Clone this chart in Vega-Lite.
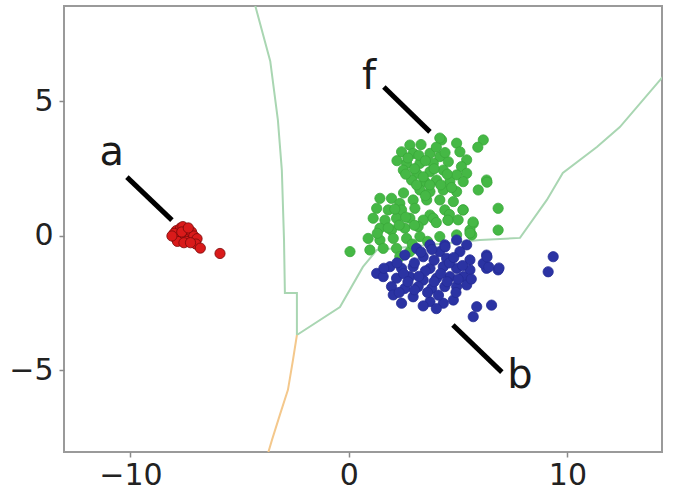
{
  "$schema": "https://vega.github.io/schema/vega-lite/v6.json",
  "autosize": "none",
  "width": 598,
  "height": 446,
  "padding": {"left": 64, "top": 6, "right": 19, "bottom": 42},
  "background": "white",
  "config": {
    "view": {"stroke": "#9a9a9a", "strokeWidth": 2},
    "axis": {
      "grid": false, "domain": false, "ticks": true, "tickColor": "#8a8a8a", "tickSize": 5, "tickWidth": 1.5,
      "labelFontSize": 30, "labelColor": "#222222", "labelFont": "DejaVu Sans", "title": null
    }
  },
  "datasets": {
    "pts": [
      {"x":4.24,"y":3.57,"g":"f"},{"x":6.15,"y":3.57,"g":"f"},{"x":2.79,"y":3.38,"g":"f"},{"x":4.93,"y":3.45,"g":"f"},{"x":2.41,"y":3.13,"g":"f"},{"x":2.94,"y":3.07,"g":"f"},{"x":3.71,"y":3.07,"g":"f"},{"x":4.16,"y":2.95,"g":"f"},{"x":5.08,"y":3.13,"g":"f"},{"x":5.39,"y":2.83,"g":"f"},
      {"x":2.64,"y":2.70,"g":"f"},{"x":3.25,"y":2.70,"g":"f"},{"x":3.86,"y":2.70,"g":"f"},{"x":4.55,"y":2.76,"g":"f"},{"x":5.15,"y":2.58,"g":"f"},{"x":2.49,"y":2.45,"g":"f"},{"x":3.10,"y":2.33,"g":"f"},{"x":3.71,"y":2.39,"g":"f"},{"x":4.32,"y":2.45,"g":"f"},{"x":4.93,"y":2.27,"g":"f"},
      {"x":5.39,"y":2.33,"g":"f"},{"x":2.87,"y":2.08,"g":"f"},{"x":3.48,"y":2.02,"g":"f"},{"x":4.01,"y":2.08,"g":"f"},{"x":4.62,"y":2.02,"g":"f"},{"x":5.23,"y":2.02,"g":"f"},{"x":6.30,"y":2.08,"g":"f"},{"x":5.92,"y":1.71,"g":"f"},{"x":3.25,"y":1.71,"g":"f"},{"x":3.71,"y":1.65,"g":"f"},
      {"x":4.32,"y":1.71,"g":"f"},{"x":4.93,"y":1.65,"g":"f"},{"x":1.42,"y":1.40,"g":"f"},{"x":1.95,"y":1.40,"g":"f"},{"x":2.33,"y":1.21,"g":"f"},{"x":2.94,"y":1.34,"g":"f"},{"x":3.56,"y":1.34,"g":"f"},{"x":4.16,"y":1.34,"g":"f"},{"x":4.78,"y":1.28,"g":"f"},{"x":1.27,"y":1.03,"g":"f"},
      {"x":1.80,"y":0.97,"g":"f"},{"x":2.41,"y":0.97,"g":"f"},{"x":3.02,"y":1.03,"g":"f"},{"x":3.71,"y":0.78,"g":"f"},{"x":4.39,"y":0.97,"g":"f"},{"x":5.23,"y":0.97,"g":"f"},{"x":6.83,"y":1.03,"g":"f"},{"x":1.11,"y":0.66,"g":"f"},{"x":1.65,"y":0.59,"g":"f"},{"x":2.18,"y":0.66,"g":"f"},
      {"x":2.79,"y":0.66,"g":"f"},{"x":3.40,"y":0.59,"g":"f"},{"x":3.86,"y":0.66,"g":"f"},{"x":4.55,"y":0.59,"g":"f"},{"x":5.69,"y":0.47,"g":"f"},{"x":1.42,"y":0.29,"g":"f"},{"x":1.95,"y":0.22,"g":"f"},{"x":2.56,"y":0.29,"g":"f"},{"x":3.17,"y":0.35,"g":"f"},{"x":5.54,"y":0.22,"g":"f"},
      {"x":6.83,"y":0.22,"g":"f"},{"x":0.88,"y":-0.09,"g":"f"},{"x":1.42,"y":-0.15,"g":"f"},{"x":2.03,"y":-0.09,"g":"f"},{"x":2.64,"y":-0.09,"g":"f"},{"x":3.25,"y":-0.02,"g":"f"},{"x":4.16,"y":-0.02,"g":"f"},{"x":4.93,"y":0.04,"g":"f"},{"x":5.62,"y":0.04,"g":"f"},{"x":0.05,"y":-0.58,"g":"f"},
      {"x":0.96,"y":-0.52,"g":"f"},{"x":1.57,"y":-0.46,"g":"f"},{"x":2.18,"y":-0.46,"g":"f"},{"x":2.79,"y":-0.58,"g":"f"},{"x":2.33,"y":-0.77,"g":"f"},
      {"x":2.7,"y":2.9,"g":"f"},{"x":3.2,"y":3.0,"g":"f"},{"x":3.5,"y":2.8,"g":"f"},{"x":4.0,"y":3.3,"g":"f"},{"x":4.4,"y":3.1,"g":"f"},{"x":3.0,"y":2.5,"g":"f"},{"x":3.4,"y":2.2,"g":"f"},{"x":3.9,"y":2.5,"g":"f"},{"x":4.5,"y":2.3,"g":"f"},{"x":4.2,"y":1.9,"g":"f"},
      {"x":3.7,"y":1.9,"g":"f"},{"x":2.6,"y":2.3,"g":"f"},{"x":3.1,"y":1.9,"g":"f"},{"x":4.7,"y":1.8,"g":"f"},{"x":3.5,"y":1.5,"g":"f"},{"x":2.5,"y":1.6,"g":"f"},{"x":2.1,"y":1.0,"g":"f"},{"x":2.6,"y":0.7,"g":"f"},{"x":3.0,"y":0.4,"g":"f"},{"x":1.8,"y":0.3,"g":"f"},
      {"x":2.3,"y":0.4,"g":"f"},{"x":4.0,"y":0.5,"g":"f"},{"x":4.6,"y":0.8,"g":"f"},{"x":5.0,"y":0.6,"g":"f"},{"x":1.3,"y":0.1,"g":"f"},{"x":2.9,"y":-0.3,"g":"f"},{"x":3.6,"y":-0.2,"g":"f"},{"x":5.9,"y":3.3,"g":"f"},{"x":3.3,"y":3.4,"g":"f"},{"x":2.2,"y":2.8,"g":"f"},
      {"x":4.16,"y":3.64,"g":"f"},{"x":6.32,"y":2.0,"g":"f"},{"x":5.68,"y":0.52,"g":"f"},{"x":5.54,"y":0.11,"g":"f"},{"x":5.22,"y":0.97,"g":"f"},{"x":4.53,"y":0.59,"g":"f"},
      {"x":4.93,"y":-0.15,"g":"b"},{"x":4.39,"y":-0.33,"g":"b"},{"x":3.71,"y":-0.33,"g":"b"},{"x":5.39,"y":-0.33,"g":"b"},{"x":3.10,"y":-0.46,"g":"b"},{"x":4.16,"y":-0.58,"g":"b"},{"x":5.08,"y":-0.58,"g":"b"},{"x":6.30,"y":-0.71,"g":"b"},{"x":2.56,"y":-0.71,"g":"b"},{"x":3.40,"y":-0.77,"g":"b"},
      {"x":4.47,"y":-0.83,"g":"b"},{"x":5.54,"y":-0.89,"g":"b"},{"x":1.27,"y":-1.39,"g":"b"},{"x":1.88,"y":-1.14,"g":"b"},{"x":2.41,"y":-1.20,"g":"b"},{"x":2.94,"y":-1.14,"g":"b"},{"x":3.71,"y":-1.20,"g":"b"},{"x":4.32,"y":-1.14,"g":"b"},{"x":4.93,"y":-1.20,"g":"b"},{"x":5.54,"y":-1.26,"g":"b"},
      {"x":6.30,"y":-1.20,"g":"b"},{"x":6.83,"y":-1.26,"g":"b"},{"x":1.57,"y":-1.51,"g":"b"},{"x":2.18,"y":-1.57,"g":"b"},{"x":2.79,"y":-1.51,"g":"b"},{"x":3.40,"y":-1.64,"g":"b"},{"x":4.01,"y":-1.57,"g":"b"},{"x":4.62,"y":-1.51,"g":"b"},{"x":5.23,"y":-1.51,"g":"b"},{"x":1.95,"y":-1.88,"g":"b"},
      {"x":2.56,"y":-1.95,"g":"b"},{"x":3.17,"y":-1.88,"g":"b"},{"x":3.79,"y":-1.95,"g":"b"},{"x":4.39,"y":-1.88,"g":"b"},{"x":4.93,"y":-1.88,"g":"b"},{"x":5.39,"y":-1.82,"g":"b"},{"x":2.03,"y":-2.19,"g":"b"},{"x":2.41,"y":-2.50,"g":"b"},{"x":2.94,"y":-2.26,"g":"b"},{"x":3.71,"y":-2.44,"g":"b"},
      {"x":4.32,"y":-2.50,"g":"b"},{"x":4.78,"y":-2.38,"g":"b"},{"x":5.85,"y":-2.63,"g":"b"},{"x":6.53,"y":-2.57,"g":"b"},{"x":5.69,"y":-3.00,"g":"b"},{"x":9.35,"y":-0.77,"g":"b"},{"x":9.12,"y":-1.33,"g":"b"},{"x":6.15,"y":-1.02,"g":"b"},
      {"x":3.3,"y":-0.6,"g":"b"},{"x":3.9,"y":-0.9,"g":"b"},{"x":4.6,"y":-1.0,"g":"b"},{"x":3.0,"y":-1.0,"g":"b"},{"x":2.5,"y":-1.4,"g":"b"},{"x":3.5,"y":-1.3,"g":"b"},{"x":4.2,"y":-1.4,"g":"b"},{"x":4.8,"y":-0.8,"g":"b"},{"x":2.2,"y":-1.0,"g":"b"},{"x":3.2,"y":-1.5,"g":"b"},
      {"x":3.9,"y":-1.7,"g":"b"},{"x":4.5,"y":-1.7,"g":"b"},{"x":2.7,"y":-1.7,"g":"b"},{"x":3.6,"y":-2.1,"g":"b"},{"x":4.1,"y":-2.2,"g":"b"},{"x":5.0,"y":-1.6,"g":"b"},{"x":5.2,"y":-1.1,"g":"b"},{"x":4.4,"y":-0.4,"g":"b"},{"x":3.8,"y":-0.5,"g":"b"},{"x":3.0,"y":-2.0,"g":"b"},
      {"x":1.6,"y":-1.2,"g":"b"},{"x":2.3,"y":-2.1,"g":"b"},{"x":4.9,"y":-2.1,"g":"b"},{"x":5.6,"y":-1.6,"g":"b"},{"x":3.4,"y":-2.6,"g":"b"},{"x":4.0,"y":-2.7,"g":"b"},{"x":6.4,"y":-1.15,"g":"b"},{"x":6.87,"y":-1.19,"g":"b"},{"x":6.32,"y":-0.78,"g":"b"},
      {"x":-7.9,"y":0.2,"g":"a"},{"x":-7.7,"y":0.3,"g":"a"},{"x":-7.5,"y":0.25,"g":"a"},{"x":-7.8,"y":0.0,"g":"a"},{"x":-7.6,"y":0.05,"g":"a"},{"x":-7.4,"y":0.1,"g":"a"},{"x":-7.9,"y":-0.1,"g":"a"},{"x":-7.7,"y":-0.15,"g":"a"},{"x":-7.5,"y":-0.05,"g":"a"},{"x":-7.3,"y":-0.1,"g":"a"},
      {"x":-8.0,"y":0.1,"g":"a"},{"x":-7.6,"y":0.35,"g":"a"},{"x":-7.2,"y":0.15,"g":"a"},{"x":-7.1,"y":0.0,"g":"a"},{"x":-7.85,"y":-0.2,"g":"a"},{"x":-7.45,"y":-0.2,"g":"a"},{"x":-6.95,"y":-0.1,"g":"a"},{"x":-7.0,"y":-0.3,"g":"a"},{"x":-6.8,"y":-0.45,"g":"a"},{"x":-5.9,"y":-0.65,"g":"a"},
      {"x":-7.65,"y":0.15,"g":"a"},{"x":-7.35,"y":0.3,"g":"a"},{"x":-8.1,"y":0.0,"g":"a"},{"x":-7.55,"y":-0.25,"g":"a"},{"x":-7.25,"y":-0.25,"g":"a"}
    ],
    "bounds": [
      {"seg":"g1","o":1,"x":-4.30,"y":8.6},{"seg":"g1","o":2,"x":-3.6,"y":6.5},{"seg":"g1","o":3,"x":-3.25,"y":4.31},{"seg":"g1","o":4,"x":-3.07,"y":2.45},{"seg":"g1","o":5,"x":-2.97,"y":-0.15},{"seg":"g1","o":6,"x":-2.93,"y":-2.12},{"seg":"g1","o":7,"x":-2.38,"y":-2.12},{"seg":"g1","o":8,"x":-2.38,"y":-3.68},
      {"seg":"g2","o":1,"x":-2.38,"y":-3.68},{"seg":"g2","o":2,"x":-0.41,"y":-2.64},{"seg":"g2","o":3,"x":0.64,"y":-1.15},{"seg":"g2","o":4,"x":1.28,"y":-0.52},{"seg":"g2","o":5,"x":6.0,"y":-0.15},{"seg":"g2","o":6,"x":7.83,"y":-0.07},{"seg":"g2","o":7,"x":9.06,"y":1.34},{"seg":"g2","o":8,"x":9.79,"y":2.34},{"seg":"g2","o":9,"x":11.35,"y":3.31},{"seg":"g2","o":10,"x":12.4,"y":4.05},{"seg":"g2","o":11,"x":14.4,"y":5.95},
      {"seg":"o","o":1,"x":-2.38,"y":-3.68},{"seg":"o","o":2,"x":-2.56,"y":-4.61},{"seg":"o","o":3,"x":-2.79,"y":-5.72},{"seg":"o","o":4,"x":-3.16,"y":-6.65},{"seg":"o","o":5,"x":-3.52,"y":-7.58},{"seg":"o","o":6,"x":-3.71,"y":-8.1}
    ],
    "notes": [
      {"t":"a","x":-10.85,"y":3.09,"x1":-10.16,"y1":2.19,"x2":-8.10,"y2":0.59},
      {"t":"b","x":7.83,"y":-5.2,"x1":4.76,"y1":-3.31,"x2":7.0,"y2":-5.06},
      {"t":"f","x":0.92,"y":5.91,"x1":1.60,"y1":5.54,"x2":3.71,"y2":3.87}
    ]
  },
  "layer": [
    {
      "data": {"name": "bounds"},
      "mark": {"type": "line", "clip": true, "strokeWidth": 2},
      "encoding": {
        "x": {"field": "x", "type": "quantitative", "scale": {"domain": [-13.04, 14.33], "nice": false, "zero": false}, "axis": {"values": [-10, 0, 10], "labelPadding": 3}},
        "y": {"field": "y", "type": "quantitative", "scale": {"domain": [-8.03, 8.55], "nice": false, "zero": false}, "axis": {"values": [-5, 0, 5], "labelPadding": 6}},
        "detail": {"field": "seg"},
        "order": {"field": "o"},
        "color": {"field": "seg", "type": "nominal", "scale": {"domain": ["g1", "g2", "o"], "range": ["#a9d6b2", "#a9d6b2", "#f4c88c"]}, "legend": null}
      }
    },
    {
      "data": {"name": "pts"},
      "mark": {"type": "circle", "opacity": 1, "clip": true},
      "encoding": {
        "x": {"field": "x", "type": "quantitative"},
        "y": {"field": "y", "type": "quantitative"},
        "fill": {"field": "g", "type": "nominal", "scale": {"domain": ["f", "b", "a"], "range": ["#45b845", "#2b33a3", "#d91a1a"]}, "legend": null},
        "stroke": {"field": "g", "type": "nominal", "scale": {"domain": ["f", "b", "a"], "range": ["#3aa83a", "#252c96", "#7a0a0a"]}, "legend": null},
        "strokeWidth": {"value": 0.8},
        "size": {"value": 105}
      }
    },
    {
      "data": {"name": "notes"},
      "mark": {"type": "rule", "color": "black", "strokeWidth": 5},
      "encoding": {
        "x": {"field": "x1", "type": "quantitative"},
        "y": {"field": "y1", "type": "quantitative"},
        "x2": {"field": "x2"},
        "y2": {"field": "y2"}
      }
    },
    {
      "data": {"name": "notes"},
      "mark": {"type": "text", "font": "DejaVu Sans", "fontSize": 40, "color": "#1a1a1a", "align": "center", "baseline": "middle"},
      "encoding": {
        "x": {"field": "x", "type": "quantitative"},
        "y": {"field": "y", "type": "quantitative"},
        "text": {"field": "t"}
      }
    }
  ]
}
